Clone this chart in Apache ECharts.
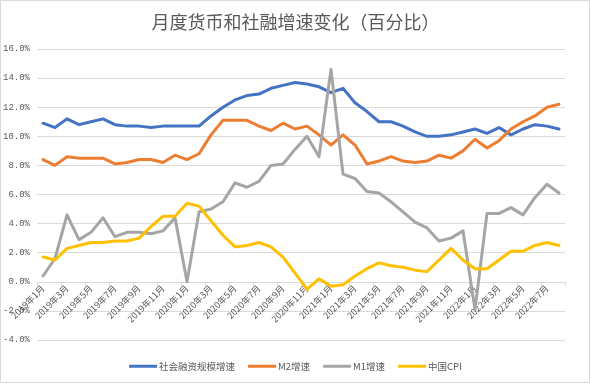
<!DOCTYPE html>
<html>
<head>
<meta charset="utf-8">
<script src="https://cdn.jsdelivr.net/npm/echarts@6/dist/echarts.min.js"></script>
<style>
html,body{margin:0;padding:0;background:#fff;}
#chart{width:591px;height:384px;}
</style>
</head>
<body>
<div id="chart"></div>
<script>
const months = [
  '2019年1月','2019年2月','2019年3月','2019年4月','2019年5月','2019年6月','2019年7月','2019年8月','2019年9月','2019年10月','2019年11月','2019年12月',
  '2020年1月','2020年2月','2020年3月','2020年4月','2020年5月','2020年6月','2020年7月','2020年8月','2020年9月','2020年10月','2020年11月','2020年12月',
  '2021年1月','2021年2月','2021年3月','2021年4月','2021年5月','2021年6月','2021年7月','2021年8月','2021年9月','2021年10月','2021年11月','2021年12月',
  '2022年1月','2022年2月','2022年3月','2022年4月','2022年5月','2022年6月','2022年7月','2022年8月'
];
const tsf = [10.9,10.6,11.2,10.8,11.0,11.2,10.8,10.7,10.7,10.6,10.7,10.7,
  10.7,10.7,11.4,12.0,12.5,12.8,12.9,13.3,13.5,13.7,13.6,13.4,
  13.0,13.3,12.3,11.7,11.0,11.0,10.7,10.3,10.0,10.0,10.1,10.3,
  10.5,10.2,10.6,10.1,10.5,10.8,10.7,10.5];
const m2 = [8.4,8.0,8.6,8.5,8.5,8.5,8.1,8.2,8.4,8.4,8.2,8.7,
  8.4,8.8,10.1,11.1,11.1,11.1,10.7,10.4,10.9,10.5,10.7,10.1,
  9.4,10.1,9.4,8.1,8.3,8.6,8.3,8.2,8.3,8.7,8.5,9.0,
  9.8,9.2,9.7,10.5,11.0,11.4,12.0,12.2];
const m1 = [0.4,1.6,4.6,2.9,3.4,4.4,3.1,3.4,3.4,3.3,3.5,4.4,
  0.0,4.8,5.0,5.5,6.8,6.5,6.9,8.0,8.1,9.1,10.0,8.6,
  14.6,7.4,7.1,6.2,6.1,5.5,4.8,4.1,3.7,2.8,3.0,3.5,
  -1.9,4.7,4.7,5.1,4.6,5.8,6.7,6.1];
const cpi = [1.7,1.5,2.3,2.5,2.7,2.7,2.8,2.8,3.0,3.8,4.5,4.5,
  5.4,5.2,4.2,3.2,2.4,2.5,2.7,2.4,1.7,0.6,-0.5,0.2,
  -0.3,-0.2,0.4,0.9,1.3,1.1,1.0,0.8,0.7,1.5,2.3,1.5,
  0.9,0.9,1.5,2.1,2.1,2.5,2.7,2.5];
const seriesNames = ['社会融资规模增速','M2增速','M1增速','中国CPI'];
const colors = ['#4472C4','#ED7D31','#A5A5A5','#FFC000'];
const title = '月度货币和社融增速变化（百分比）';

const chart = echarts.init(document.getElementById('chart'));
const dataSets = [tsf, m2, m1, cpi];
const gridTop = 49, gridBottom = 44, yMin = -4, yMax = 16;
const plotH = 384 - gridTop - gridBottom;
const zeroOffset = -plotH * (0 - yMin) / (yMax - yMin);
chart.setOption({
  animation: false,
  backgroundColor: '#fff',
  title: {
    text: title, left: 'center', top: 8,
    textStyle: {fontFamily: '"Noto Sans CJK SC"', fontSize: 18, fontWeight: 'normal', color: '#595959'}
  },
  graphic: [{
    type: 'rect', shape: {x: 0.5, y: 0.5, width: 589, height: 382},
    style: {fill: 'none', stroke: '#d9d9d9', lineWidth: 1}, silent: true, z: -1
  }],
  legend: {
    bottom: 8, left: 'center',
    icon: 'rect', itemWidth: 28, itemHeight: 3, itemGap: 13,
    textStyle: {fontFamily: '"Noto Sans CJK SC"', fontSize: 9.5, color: '#595959', padding: [0, 0, 0, -3]},
    data: seriesNames
  },
  grid: {left: 34, right: 26, top: gridTop, bottom: gridBottom, containLabel: false},
  xAxis: {
    type: 'category', data: months, boundaryGap: true, position: 'bottom',
    offset: zeroOffset,
    axisLine: {onZero: false, lineStyle: {color: '#d9d9d9'}},
    axisTick: {show: true, interval: 1, length: 4, lineStyle: {color: '#d9d9d9'}},
    axisLabel: {interval: 1, rotate: 45, margin: 5, fontSize: 9, color: '#595959', fontFamily: '"Noto Sans CJK SC"'}
  },
  yAxis: {
    type: 'value', min: yMin, max: yMax, interval: 2,
    axisLine: {show: false}, axisTick: {show: false},
    splitLine: {lineStyle: {color: '#d9d9d9', width: 1}},
    axisLabel: {margin: 7, fontSize: 9, color: '#595959', fontFamily: '"Liberation Mono", monospace',
      formatter: v => v.toFixed(1) + '%'}
  },
  series: seriesNames.map((n, i) => ({
    name: n, type: 'line', data: dataSets[i], symbol: 'none',
    lineStyle: {width: 3, color: colors[i], cap: 'round', join: 'round'},
    itemStyle: {color: colors[i]}
  }))
});
</script>
</body>
</html>
